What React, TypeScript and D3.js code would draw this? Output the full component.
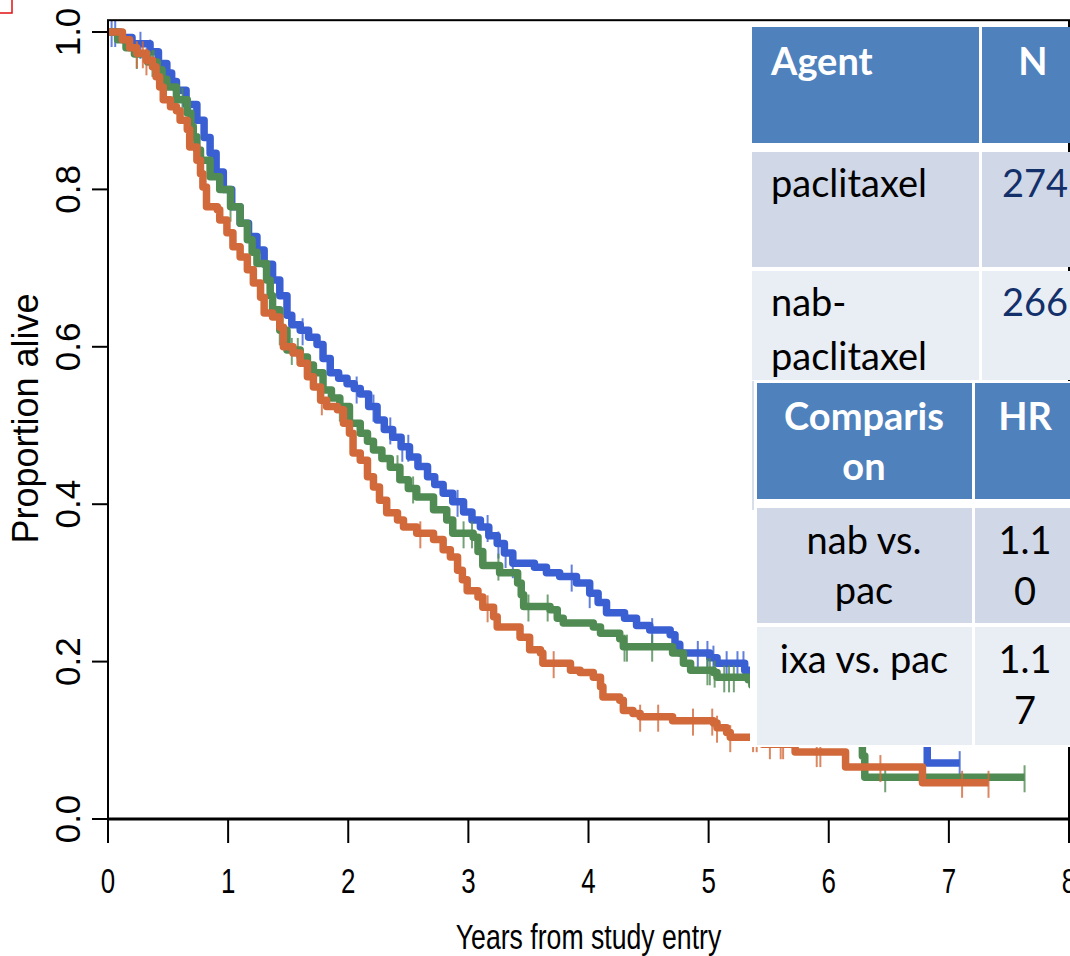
import * as d3 from "d3";

// Kaplan-Meier steps: [years, proportion alive]
const paclitaxelSteps: [number, number][] = [
  [0.1, 0.993], [0.2, 0.985], [0.35, 0.975], [0.42, 0.96], [0.49, 0.948], [0.53, 0.937], [0.57, 0.926],
  [0.65, 0.908], [0.74, 0.888], [0.8, 0.866], [0.85, 0.846], [0.9, 0.822], [0.96, 0.8], [1.03, 0.778],
  [1.1, 0.757], [1.17, 0.74], [1.24, 0.723], [1.3, 0.705], [1.37, 0.685], [1.43, 0.665], [1.49, 0.64],
  [1.53, 0.628], [1.6, 0.621], [1.67, 0.612], [1.74, 0.603], [1.79, 0.585], [1.85, 0.567], [1.92, 0.56],
  [1.99, 0.553], [2.05, 0.547], [2.1, 0.54], [2.17, 0.524], [2.24, 0.507], [2.3, 0.495], [2.37, 0.485],
  [2.44, 0.473], [2.51, 0.46], [2.58, 0.448], [2.66, 0.435], [2.72, 0.425], [2.79, 0.414], [2.87, 0.403],
  [2.96, 0.39], [3.03, 0.38], [3.1, 0.371], [3.17, 0.36], [3.24, 0.35], [3.3, 0.338], [3.37, 0.325],
  [3.55, 0.32], [3.65, 0.313], [3.76, 0.308], [3.9, 0.3], [4.01, 0.287], [4.08, 0.275], [4.15, 0.262],
  [4.3, 0.255], [4.4, 0.246], [4.51, 0.24], [4.68, 0.234], [4.72, 0.222], [4.76, 0.211], [5.01, 0.205],
  [5.07, 0.198], [5.3, 0.189], [5.36, 0.18], [5.6, 0.17], [5.9, 0.155], [6.2, 0.14], [6.5, 0.12],
  [6.7, 0.1], [6.82, 0.071],
];
const paclitaxelEnd = 7.09;
const paclitaxelCensor = [
  0.03, 0.06, 0.27, 0.35, 1.37, 1.62, 2.07, 2.21, 2.35, 2.45, 2.5, 2.91, 3.16, 3.25, 3.31, 3.37, 3.86,
  4.01, 4.53, 4.91, 4.99, 5.04, 5.15, 5.24, 5.29, 5.36, 7.09,
];

const nabSteps: [number, number][] = [
  [0.08, 0.99], [0.15, 0.98], [0.22, 0.972], [0.33, 0.962], [0.41, 0.952], [0.45, 0.94], [0.49, 0.93],
  [0.57, 0.914], [0.66, 0.897], [0.69, 0.88], [0.71, 0.867], [0.74, 0.85], [0.77, 0.837], [0.85, 0.816],
  [0.93, 0.8], [1.02, 0.778], [1.1, 0.757], [1.16, 0.736], [1.2, 0.72], [1.24, 0.706], [1.32, 0.685],
  [1.35, 0.665], [1.37, 0.647], [1.43, 0.621], [1.49, 0.596], [1.6, 0.587], [1.66, 0.577], [1.71, 0.567],
  [1.79, 0.545], [1.86, 0.535], [1.93, 0.524], [2.01, 0.503], [2.1, 0.49], [2.16, 0.48], [2.21, 0.469],
  [2.28, 0.458], [2.35, 0.447], [2.43, 0.431], [2.5, 0.42], [2.57, 0.409], [2.71, 0.393], [2.82, 0.38],
  [2.87, 0.363], [3.04, 0.358], [3.08, 0.34], [3.12, 0.322], [3.26, 0.313], [3.41, 0.3], [3.44, 0.285],
  [3.46, 0.27], [3.68, 0.266], [3.74, 0.255], [3.79, 0.249], [4.04, 0.244], [4.1, 0.236], [4.26, 0.229],
  [4.29, 0.219], [4.7, 0.211], [4.79, 0.198], [4.85, 0.189], [5.04, 0.186], [5.07, 0.18], [5.33, 0.177],
  [5.36, 0.17], [5.6, 0.16], [5.85, 0.14], [6.05, 0.12], [6.2, 0.1], [6.28, 0.08], [6.3, 0.053],
];
const nabEnd = 7.63;
const nabCensor = [
  0.24, 0.37, 0.38, 0.62, 1.02, 1.43, 1.53, 1.58, 1.93, 2.41, 2.54, 2.96, 3.03, 3.25, 3.5, 3.66, 4.3,
  4.32, 4.53, 4.99, 5.01, 5.05, 5.13, 5.17, 5.21, 6.47, 7.63,
];

const ixaSteps: [number, number][] = [
  [0.12, 0.99], [0.18, 0.98], [0.24, 0.973], [0.32, 0.964], [0.37, 0.956], [0.4, 0.943], [0.43, 0.93],
  [0.46, 0.914], [0.52, 0.905], [0.57, 0.9], [0.6, 0.888], [0.66, 0.876], [0.68, 0.854], [0.74, 0.837],
  [0.77, 0.82], [0.79, 0.803], [0.82, 0.778], [0.91, 0.774], [0.93, 0.761], [0.99, 0.745], [1.04, 0.727],
  [1.1, 0.714], [1.16, 0.698], [1.21, 0.681], [1.27, 0.663], [1.3, 0.643], [1.37, 0.638], [1.43, 0.625],
  [1.46, 0.6], [1.54, 0.592], [1.6, 0.579], [1.66, 0.562], [1.71, 0.549], [1.77, 0.532], [1.82, 0.524],
  [1.91, 0.52], [1.96, 0.503], [2.01, 0.49], [2.04, 0.465], [2.1, 0.456], [2.16, 0.435], [2.21, 0.422],
  [2.26, 0.405], [2.32, 0.389], [2.41, 0.38], [2.46, 0.371], [2.57, 0.363], [2.71, 0.355], [2.79, 0.342],
  [2.85, 0.333], [2.91, 0.316], [2.95, 0.304], [2.99, 0.29], [3.08, 0.282], [3.12, 0.269], [3.21, 0.257],
  [3.24, 0.244], [3.43, 0.231], [3.51, 0.215], [3.6, 0.211], [3.62, 0.198], [3.85, 0.189], [3.93, 0.186],
  [4.04, 0.18], [4.1, 0.168], [4.12, 0.155], [4.26, 0.151], [4.29, 0.138], [4.37, 0.134], [4.43, 0.13],
  [4.7, 0.125], [5.04, 0.122], [5.07, 0.116], [5.15, 0.11], [5.18, 0.104], [5.45, 0.095], [5.72, 0.085],
  [6.14, 0.066], [6.78, 0.046],
];
const ixaEnd = 7.33;
const ixaCensor = [
  0.24, 0.29, 0.32, 1.78, 2.6, 3.16, 3.71, 4.43, 4.58, 4.87, 5.03, 5.07, 5.18, 5.37, 5.4, 5.51, 5.6,
  5.62, 5.9, 5.93, 6.43, 7.11, 7.33,
];

const yearTicks = [0, 1, 2, 3, 4, 5, 6, 7, 8];
const propTicks = [0, 0.2, 0.4, 0.6, 0.8, 1.0];

// tables
const agentHeader = ["Agent", "N"];
const agentNames = [["paclitaxel"], ["nab-", "paclitaxel"]];
const agentN = ["274", "266"];
const compHeader = [["Comparis", "on"], ["HR"]];
const compNames = [["nab vs.", "pac"], ["ixa vs. pac"]];
const compHR = [["1.1", "0"], ["1.1", "7"]];

const series = [
  { steps: paclitaxelSteps, end: paclitaxelEnd, censor: paclitaxelCensor, color: "#3a5fd2" },
  { steps: nabSteps, end: nabEnd, censor: nabCensor, color: "#4f8b52" },
  { steps: ixaSteps, end: ixaEnd, censor: ixaCensor, color: "#d2693a" },
];

const W = 1070;
const H = 956;
const axisFont = "'Liberation Sans', Arial, sans-serif";
const tableFont = "Lato, 'Open Sans', sans-serif";

export default function App() {
  const x = d3.scaleLinear().domain([0, 8]).range([108, 1069]);
  const y = d3.scaleLinear().domain([0, 1]).range([819, 32]);

  const line = d3
    .line<[number, number]>()
    .x((d) => x(d[0]))
    .y((d) => y(d[1]))
    .curve(d3.curveStepAfter);

  function survAt(steps: [number, number][], t: number) {
    const i = d3.bisector((d: [number, number]) => d[0]).right(steps, t);
    return i === 0 ? 1 : steps[i - 1][1];
  }

  const frameTop = y(1.015);

  return (
    <svg width={W} height={H} style={{ position: "absolute", left: 0, top: 0, background: "#fff" }}>
      {/* red selection corner */}
      <rect x={-10} y={-10} width={22} height={23} fill="none" stroke="#e01010" strokeWidth={1.5} />

      {/* curves */}
      {series.map((s, i) => {
        const pts: [number, number][] = [[0, 1], ...s.steps, [s.end, s.steps[s.steps.length - 1][1]]];
        return (
          <g key={i}>
            <path d={line(pts) || ""} fill="none" stroke={s.color} strokeWidth={7.5} strokeLinejoin="round" />
            {s.censor.map((t, j) => {
              const v = survAt(s.steps, t);
              return (
                <line
                  key={j}
                  x1={x(t)}
                  x2={x(t)}
                  y1={y(v) - 12}
                  y2={y(v) + 15}
                  stroke={s.color}
                  strokeOpacity={0.8}
                  strokeWidth={2}
                />
              );
            })}
          </g>
        );
      })}

      {/* frame */}
      <rect x={x(0)} y={frameTop} width={x(8) - x(0)} height={y(0) - frameTop} fill="none" stroke="#000" strokeWidth={2} />
      <line x1={x(0)} x2={x(8)} y1={y(0)} y2={y(0)} stroke="#000" strokeWidth={3} />

      {/* y axis */}
      {propTicks.map((p) => (
        <g key={p}>
          <line x1={x(0) - 16} x2={x(0)} y1={y(p)} y2={y(p)} stroke="#000" strokeWidth={2} />
          <text
            transform={`translate(80,${y(p)}) rotate(-90)`}
            textAnchor="middle"
            fontFamily={axisFont}
            fontSize={35}
          >
            {p.toFixed(1)}
          </text>
        </g>
      ))}
      <text transform={`translate(38,${(y(0) + y(1)) / 2 - 7}) rotate(-90)`} textAnchor="middle" fontFamily={axisFont} fontSize={36}>
        Proportion alive
      </text>

      {/* x axis */}
      {yearTicks.map((t) => (
        <g key={t}>
          <line x1={x(t)} x2={x(t)} y1={y(0)} y2={y(0) + 24} stroke="#000" strokeWidth={2} />
          <text transform={`translate(${x(t)},893) scale(0.72,1)`} textAnchor="middle" fontFamily={axisFont} fontSize={36}>
            {t}
          </text>
        </g>
      ))}
      <text transform={`translate(${(x(0) + x(8)) / 2},949) scale(0.74,1)`} textAnchor="middle" fontFamily={axisFont} fontSize={36}>
        Years from study entry
      </text>

      {/* table 1: agents */}
      <g fontFamily={tableFont} fontSize={38}>
        <rect x={752} y={27} width={227} height={116} fill="#4f81bd" />
        <rect x={982} y={27} width={110} height={116} fill="#4f81bd" />
        <text x={771} y={75} fill="#fff" fontWeight="bold">{agentHeader[0]}</text>
        <text x={1033} y={75} fill="#fff" fontWeight="bold" textAnchor="middle">{agentHeader[1]}</text>
        {agentNames.map((name, i) => {
          const top = i === 0 ? 152 : 271;
          const h = i === 0 ? 115 : 109;
          const fill = i === 0 ? "#d0d8e8" : "#e9edf4";
          return (
            <g key={i}>
              <rect x={752} y={top} width={227} height={h} fill={fill} />
              <rect x={982} y={top} width={110} height={h} fill={fill} />
              {name.map((ln, k) => (
                <text key={k} x={771} y={top + 45 + k * 54} fill="#000">{ln}</text>
              ))}
              <text x={1002} y={top + 45} fill="#13306b">{agentN[i]}</text>
            </g>
          );
        })}
      </g>

      {/* table 2: hazard ratios */}
      <g fontFamily={tableFont} fontSize={38} textAnchor="middle">
        <rect x={750} y={381} width={330} height={366} fill="#fff" />
        <line x1={753} x2={753} y1={381} y2={510} stroke="#c9d3e6" strokeWidth={1.5} />
        <rect x={757} y={383} width={215} height={116} fill="#4f81bd" />
        <rect x={975} y={383} width={110} height={116} fill="#4f81bd" />
        {compHeader[0].map((ln, k) => (
          <text key={k} x={864} y={430 + k * 50} fill="#fff" fontWeight="bold">{ln}</text>
        ))}
        <text x={1025} y={430} fill="#fff" fontWeight="bold">{compHeader[1][0]}</text>
        {compNames.map((name, i) => {
          const top = i === 0 ? 508 : 627;
          const h = i === 0 ? 115 : 118;
          const fill = i === 0 ? "#d0d8e8" : "#e9edf4";
          return (
            <g key={i}>
              <rect x={757} y={top} width={215} height={h} fill={fill} />
              <rect x={975} y={top} width={110} height={h} fill={fill} />
              {name.map((ln, k) => (
                <text key={k} x={864} y={top + 46 + k * 50} fill="#000">{ln}</text>
              ))}
              {compHR[i].map((ln, k) => (
                <text key={k} x={1025} y={top + 46 + k * 51} fill="#000">{ln}</text>
              ))}
            </g>
          );
        })}
      </g>
    </svg>
  );
}
